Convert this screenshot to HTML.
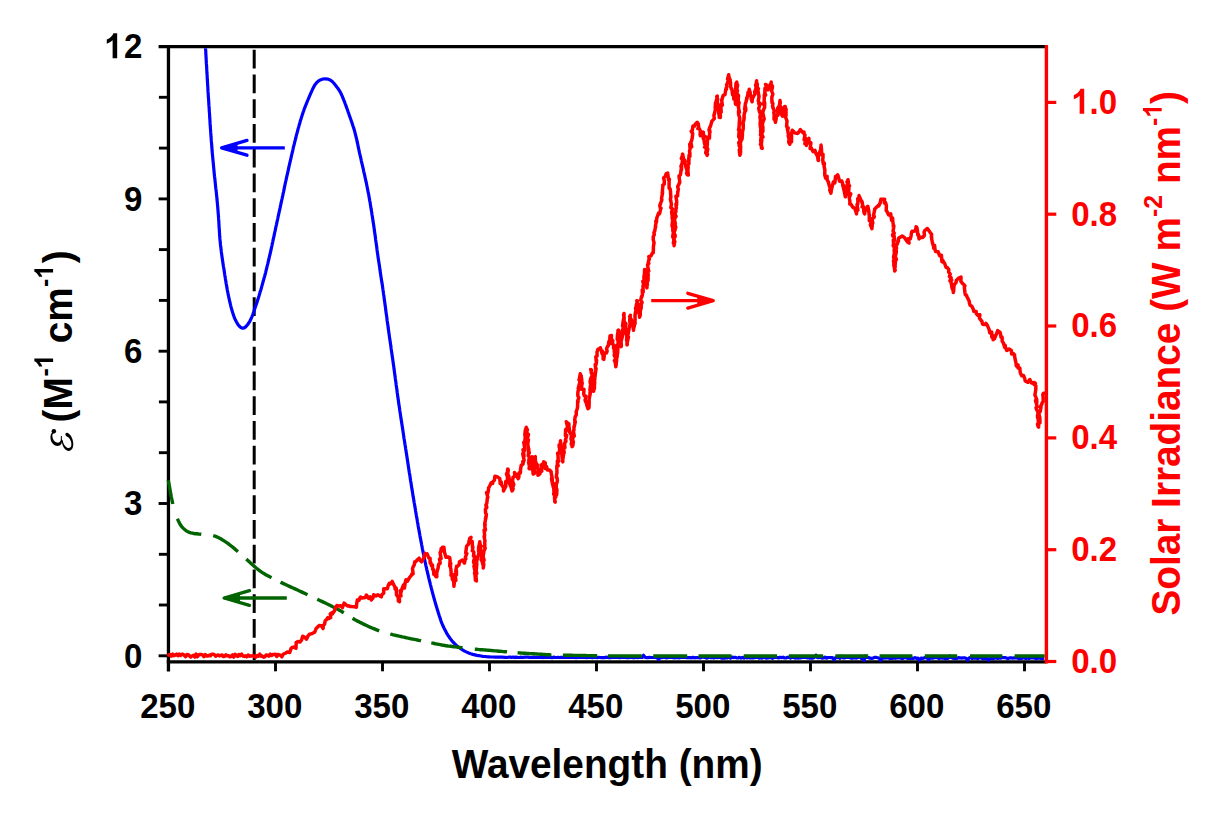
<!DOCTYPE html>
<html><head><meta charset="utf-8"><title>chart</title>
<style>html,body{margin:0;padding:0;background:#fff}body{width:1221px;height:818px;overflow:hidden;font-family:"Liberation Sans",sans-serif}svg{display:block}</style></head>
<body>
<svg width="1221" height="818" viewBox="0 0 1221 818">
<rect width="1221" height="818" fill="#fff"/>
<g stroke="#000" stroke-width="3.3" fill="none" stroke-linecap="butt">
<line x1="158.6" y1="46.6" x2="1046.4" y2="46.6"/>
<line x1="168.45" y1="45" x2="168.45" y2="671.5"/>
<line x1="166.8" y1="661.85" x2="1046.4" y2="661.85"/>
</g>
<g stroke="#000" stroke-width="2.9">
<line x1="158.6" y1="655.8" x2="168.45" y2="655.8"/>
<line x1="158.9" y1="605" x2="168.45" y2="605"/>
<line x1="158.9" y1="554.3" x2="168.45" y2="554.3"/>
<line x1="158.6" y1="503.5" x2="168.45" y2="503.5"/>
<line x1="158.9" y1="452.7" x2="168.45" y2="452.7"/>
<line x1="158.9" y1="401.9" x2="168.45" y2="401.9"/>
<line x1="158.6" y1="351.2" x2="168.45" y2="351.2"/>
<line x1="158.9" y1="300.4" x2="168.45" y2="300.4"/>
<line x1="158.9" y1="249.6" x2="168.45" y2="249.6"/>
<line x1="158.6" y1="198.9" x2="168.45" y2="198.9"/>
<line x1="158.9" y1="148.1" x2="168.45" y2="148.1"/>
<line x1="158.9" y1="97.3" x2="168.45" y2="97.3"/>
<line x1="275.5" y1="661.85" x2="275.5" y2="671.3"/>
<line x1="382.5" y1="661.85" x2="382.5" y2="671.3"/>
<line x1="489.5" y1="661.85" x2="489.5" y2="671.3"/>
<line x1="596.5" y1="661.85" x2="596.5" y2="671.3"/>
<line x1="703.5" y1="661.85" x2="703.5" y2="671.3"/>
<line x1="810.5" y1="661.85" x2="810.5" y2="671.3"/>
<line x1="917.5" y1="661.85" x2="917.5" y2="671.3"/>
<line x1="1024.5" y1="661.85" x2="1024.5" y2="671.3"/>
</g>
<g stroke="#ff0000" fill="none">
<line x1="1046.4" y1="45" x2="1046.4" y2="663.5" stroke-width="3.4"/>
<line x1="1046.4" y1="661.5" x2="1056.3" y2="661.5" stroke-width="3.2"/>
<line x1="1046.4" y1="549.7" x2="1056.3" y2="549.7" stroke-width="3.2"/>
<line x1="1046.4" y1="437.9" x2="1056.3" y2="437.9" stroke-width="3.2"/>
<line x1="1046.4" y1="326" x2="1056.3" y2="326" stroke-width="3.2"/>
<line x1="1046.4" y1="214.2" x2="1056.3" y2="214.2" stroke-width="3.2"/>
<line x1="1046.4" y1="102.4" x2="1056.3" y2="102.4" stroke-width="3.2"/>
</g>
<clipPath id="pc"><rect x="164" y="48.3" width="884" height="620"/></clipPath>
<line x1="254.2" y1="49.85" x2="254.2" y2="660" stroke="#000" stroke-width="3" stroke-dasharray="18.6 6.15"/>
<g clip-path="url(#pc)" fill="none">
<path d="M205 46.5L205.1 45.2L205.6 49.4L205.7 50.5L205.8 51.8L205.8 53.2L205.9 54.7L206 56.4L206.1 58.1L206.2 59.9L206.3 61.9L206.4 63.9L206.6 65.9L206.7 68.1L206.8 70.3L206.9 72.5L207.1 74.8L207.2 77.1L207.3 79.5L207.5 81.9L207.6 84.3L207.8 86.7L207.9 89.1L208 91.4L208.2 93.8L208.3 95.6L208.4 97.5L208.6 99.3L208.7 101.3L208.8 103.2L208.9 105.2L209.1 107.2L209.2 109.2L209.3 111.3L209.5 113.3L209.6 115.4L209.7 117.5L209.9 119.6L210 121.7L210.1 123.9L210.3 126L210.4 128.1L210.6 130.3L210.7 132.4L210.9 134.5L211 136.7L211.2 138.8L211.3 140.9L211.5 142.9L211.7 145L211.8 147L212 149L212.1 151L212.3 153L212.5 155.1L212.7 157.2L212.9 159.3L213.1 161.4L213.3 163.5L213.5 165.7L213.7 167.8L213.9 169.9L214.1 172L214.3 174.1L214.5 176.2L214.8 178.3L215 180.3L215.2 182.4L215.4 184.4L215.6 186.4L215.8 188.4L216.1 190.4L216.3 192.3L216.5 194.3L216.7 196.2L216.9 198L217 199.8L217.2 201.6L217.4 203.4L217.5 205.1L217.7 206.8L217.9 209.4L218.1 211.9L218.3 214.3L218.5 216.6L218.6 218.9L218.8 221L218.9 223.2L219 225.2L219.1 227.3L219.3 229.3L219.4 231.2L219.5 233.1L219.6 235.1L219.8 237L219.9 238.9L220.1 240.8L220.3 242.7L220.5 245L220.8 247.3L221.1 249.5L221.3 251.7L221.6 253.8L221.9 256L222.2 258.1L222.5 260.1L222.8 262.2L223.1 264.2L223.4 266.2L223.8 268.3L224.1 270.3L224.4 272.3L224.7 274.5L225.1 276.7L225.4 278.8L225.8 281L226.1 283.2L226.5 285.3L226.9 287.4L227.2 289.5L227.6 291.5L228 293.5L228.4 295.5L228.8 297.4L229.2 299.2L229.7 301.5L230.3 303.8L230.8 306.1L231.4 308.3L232 310.4L232.6 312.4L233.2 314.3L233.8 316.1L234.4 317.8L235.1 319.3L236.5 322L237.9 324.4L239.4 326.3L240.9 327.6L242.4 328.2L244.2 327.9L246 326.6L247.7 324.5L249.4 322L250.3 320.4L251.1 318.6L252 316.6L252.8 314.5L253.6 312.2L254.4 309.7L255.3 307.2L255.9 305.5L256.5 303.8L257.1 301.9L257.7 300.1L258.3 298.1L258.9 296.2L259.5 294.1L260.1 292.1L260.8 290L261.4 287.9L262 285.7L262.5 283.9L263 282L263.5 280.2L264 278.3L264.6 276.4L265.1 274.5L265.6 272.6L266.1 270.5L266.6 268.5L267.1 266.4L267.7 264.2L268.2 261.9L268.8 259.5L269.2 257.7L269.6 255.9L270.1 254L270.5 252L271 250L271.4 247.9L271.9 245.8L272.3 243.7L272.8 241.6L273.2 239.4L273.7 237.3L274.2 235.2L274.6 233L275.1 230.9L275.5 228.9L275.9 226.8L276.4 224.8L276.8 222.9L277.3 220.7L277.8 218.5L278.2 216.3L278.7 214.1L279.2 211.8L279.7 209.6L280.2 207.4L280.6 205.3L281.1 203.2L281.5 201.1L282 199.1L282.4 197.2L282.8 195.4L283.1 193.7L283.5 192.1L283.8 190.6L284.4 187.6L284.8 185.6L285.1 184.2L285.4 182.7L285.9 180.7L286.6 177.4L286.9 176L287.3 174.4L287.7 172.7L288.1 170.9L288.5 168.9L288.9 166.9L289.4 164.9L289.9 162.7L290.4 160.6L290.9 158.4L291.4 156.2L291.9 154L292.4 151.9L292.9 149.8L293.3 147.7L293.8 145.8L294.3 143.9L294.7 142.1L295.3 139.8L295.9 137.5L296.4 135.2L297 133.1L297.6 131L298.1 128.9L298.7 126.9L299.2 124.9L299.8 123L300.3 121.1L300.9 119.3L301.4 117.5L302 115.7L302.7 113.5L303.5 111.3L304.2 109.2L305 107.2L305.7 105.3L306.5 103.5L307.2 101.7L307.9 100L308.6 98.3L309.3 96.7L310.4 94.2L311.4 91.8L312.4 89.6L313.3 87.7L314.3 85.9L315.2 84.4L317 82.2L318.6 80.9L320.3 79.9L322.9 79L325.5 78.8L328.1 79.1L330.6 80.2L332.3 81.5L333.9 83.3L335.7 85.5L336.8 87L338 88.5L339.2 90.3L340.4 92.4L341.6 94.8L342.3 96.4L343 98.1L343.7 99.9L344.5 101.8L345.2 103.8L346 105.9L346.7 107.9L347.5 110L348.2 112.1L348.9 114L349.5 115.9L350.2 117.8L350.9 119.7L351.6 121.7L352.3 123.7L352.9 125.7L353.6 127.7L354.2 129.8L354.8 131.9L355.3 133.8L355.8 135.8L356.3 137.9L356.8 139.9L357.2 142L357.7 144L358.1 146.1L358.5 148.2L359 150.3L359.4 152.4L359.9 154.5L360.4 156.6L360.9 158.7L361.3 160.8L361.8 162.9L362.3 165L362.8 167.1L363.3 169.2L363.7 171.3L364.2 173.3L364.7 175.4L365.1 177.4L365.6 179.6L366 181.7L366.5 183.7L366.9 185.8L367.3 187.8L367.7 189.9L368.1 191.9L368.6 194.1L369 196.4L369.4 198.7L369.7 200.6L370.1 202.5L370.4 204.4L370.7 206.4L371 208.4L371.4 210.4L371.7 212.5L372 214.6L372.4 216.7L372.7 218.9L373 221.1L373.4 223.3L373.7 225.6L374 227.5L374.3 229.4L374.5 231.3L374.8 233.3L375.1 235.3L375.4 237.3L375.6 239.4L375.9 241.4L376.2 243.5L376.5 245.6L376.8 247.6L377 249.7L377.3 251.8L377.6 253.8L377.9 255.9L378.2 257.9L378.5 259.9L378.8 261.9L379.1 263.8L379.4 265.8L379.7 267.7L379.9 269.6L380.2 271.5L380.5 273.5L380.8 275.4L381.1 277.4L381.4 279.4L381.7 281.4L382.1 283.5L382.4 285.6L382.7 287.8L383 290L383.3 291.8L383.5 293.7L383.8 295.6L384.1 297.6L384.3 299.6L384.6 301.6L384.9 303.6L385.2 305.7L385.5 307.7L385.7 309.8L386 311.9L386.3 314L386.6 316.1L386.9 318.1L387.1 320.2L387.4 322.2L387.7 324.2L388 326.2L388.2 328.1L388.5 330L388.8 332.2L389.1 334.3L389.4 336.4L389.7 338.5L390 340.5L390.3 342.5L390.6 344.5L390.9 346.5L391.1 348.5L391.4 350.5L391.7 352.5L392 354.5L392.3 356.5L392.6 358.6L392.9 360.7L393.2 362.8L393.5 365L393.8 366.9L394 368.8L394.3 370.7L394.5 372.6L394.8 374.6L395.1 376.5L395.3 378.5L395.6 380.4L395.9 382.4L396.1 384.4L396.4 386.4L396.7 388.5L397 390.5L397.2 392.5L397.5 394.6L397.8 396.7L398.1 398.7L398.4 400.8L398.7 402.9L399 405L399.3 406.9L399.6 408.8L399.8 410.7L400.1 412.6L400.4 414.5L400.7 416.4L401 418.4L401.3 420.3L401.6 422.2L401.9 424.2L402.2 426.1L402.5 428.1L402.8 430.1L403.1 432.1L403.4 434.1L403.7 436.2L404 438.3L404.4 440.4L404.7 442.5L405 444.6L405.4 446.8L405.7 449L406 450.8L406.3 452.7L406.6 454.6L406.9 456.5L407.2 458.4L407.5 460.4L407.8 462.4L408.1 464.4L408.4 466.4L408.7 468.4L409 470.5L409.3 472.5L409.7 474.6L410 476.6L410.3 478.7L410.6 480.8L411 482.8L411.3 484.9L411.6 486.9L411.9 488.9L412.3 491L412.6 493L412.9 495L413.2 496.9L413.6 498.9L413.9 500.8L414.2 502.7L414.6 504.8L414.9 506.9L415.3 509L415.6 511.1L416 513.2L416.3 515.3L416.7 517.4L417.1 519.5L417.4 521.5L417.8 523.6L418.1 525.6L418.5 527.7L418.9 529.7L419.2 531.7L419.6 533.6L419.9 535.6L420.3 537.6L420.7 539.5L421 541.4L421.4 543.3L421.7 545.1L422.1 547L422.4 548.8L422.8 550.6L423.2 552.8L423.7 555L424.1 557.2L424.6 559.3L425 561.4L425.5 563.5L425.9 565.6L426.4 567.6L426.8 569.6L427.3 571.5L427.7 573.5L428.2 575.4L428.6 577.3L429.1 579.2L429.5 581L430 582.8L430.4 584.6L430.9 586.4L431.3 588.2L431.9 590.4L432.5 592.7L433.1 594.9L433.7 597.1L434.3 599.2L434.9 601.4L435.5 603.5L436.1 605.5L436.7 607.5L437.3 609.4L437.9 611.2L438.4 613L438.9 614.6L439.4 616.2L439.9 617.6L440.9 620.7L441.8 623.1L442.6 625L443.4 626.7L444.1 628.2L444.9 629.8L446.1 632.1L447.2 634.2L448.5 636.1L449.8 638L451.3 639.9L452.9 641.9L454.6 643.7L456.4 645.4L458.3 647L460.4 648.5L462.5 649.9L464.6 651.1L466.7 652.1L468.7 653L470.8 653.8L472.8 654.4L474.9 654.9L476.9 655.4L479 655.7L481 656L482.8 656.3L484.5 656.5L486.5 656.7L489.1 656.9L490.9 657L493 657L495.4 657.1L497.8 657.2L500.2 657.2L502.4 657.2L504.2 657.3L505.5 657.3L507 657.5L508.5 657.2L510 657.2L511.5 657.3L513 657.1L514.5 657.6L516 657.1L517.5 657.4L519 657.5L520.5 657.2L522 657.4L523.5 657.3L525 657.2L526.5 657.2L528 657.1L529.5 657.5L531 657.5L532.5 657.5L534 657.1L535.5 657.4L537 657.3L538.5 657.4L540 657.4L541.5 657.3L543 657.6L544.5 657.1L546 657.5L547.5 657.5L549 657.4L550.5 657.4L552 657.6L553.5 657.2L555 657.4L556.5 657.5L558 657.3L559.5 657.5L561 657.3L562.5 657.4L564 657.5L565.5 657.5L567 657.3L568.5 657.5L570 657.4L571.5 657.3L573 657.5L574.5 657.3L576 657.6L577.5 657.4L579 657.5L580.5 657.4L582 657.4L583.5 657.3L585 657.3L586.5 657.6L588 657.4L589.5 657.4L591 657.5L592.5 657.6L594 657.3L595.5 657.3L597 657.6L598.5 657.4L600 657.5L601.5 657.6L603 657.7L604.5 657.6L606 657.2L607.5 657.4L609 657.6L610.5 657.6L612 657.3L613.5 657.3L615 657.4L616.5 657.3L618 657.4L619.5 657.6L621 657.5L622.5 657.5L624 657.3L625.5 657.4L627 657.7L628.5 657.6L630 657.5L631.5 657.5L633 657.7L634.5 657.6L636 657.3L637.5 657.6L639 657.5L640.5 657.5L642 657.5L643.5 655.3L645 657.3L646.5 657.6L648 657.6L649.5 657.4L651 657.5L652.5 657.5L654 657.4L655.5 657.4L657 657.8L658.5 659.5L660 657.8L661.5 657.6L663 657.4L664.5 657.4L666 657.8L667.5 657.6L669 657.4L670.5 657.4L672 657.5L673.5 657.8L675 657.7L676.5 657.6L678 657.7L679.5 657.8L681 657.4L682.5 657.4L684 657.3L685.5 657.4L687 657.8L688.5 657.5L690 657.6L691.5 657.8L693 657.4L694.5 657.8L696 657.6L697.5 657.5L699 657.8L700.5 657.9L702 657.2L703.5 657.1L705 657.4L706.5 658.2L708 657.7L709.5 657.1L711 657.8L712.5 657.5L714 657.9L715.5 657.3L717 657.6L718.5 657.4L720 657.3L721.5 658.2L723 657.9L724.5 658.2L726 657.6L727.5 657.9L729 657.1L730.5 658.2L732 657.1L733.5 657.6L735 657.3L736.5 657.8L738 658L739.5 657.3L741 658.1L742.5 657.3L744 658.1L745.5 657.1L747 658L748.5 657.4L750 658L751.5 657.7L753 658L754.5 657.7L756 657.4L757.5 657.2L759 658.1L760.5 657.7L762 658.2L763.5 657.3L765 657.7L766.5 658.2L768 658L769.5 657.5L771 657.8L772.5 658.3L774 657.4L775.5 657.5L777 657.5L778.5 658L780 657.3L781.5 657.6L783 657.2L784.5 658L786 658L787.5 657.3L789 657.2L790.5 658.2L792 657.4L793.5 657.5L795 658.1L796.5 657.7L798 658.1L799.5 657.9L801 657.9L802.5 657.2L804 657.4L805.5 657.4L807 657.8L808.5 657.6L810 658.2L811.5 658.1L813 658.1L814.5 657.4L816 655.1L817.5 657.7L819 657.7L820.5 657.3L822 658.1L823.5 658L825 657.2L826.5 658.2L828 657.5L829.5 657.5L831 657.6L832.5 657.6L834 659.9L835.5 657.7L837 657.7L838.5 657.4L840 658.3L841.5 656.1L843 657.8L844.5 657.9L846 657.5L847.5 657.5L849 657.3L850.5 657.9L852 658.3L853.5 658L855 658L856.5 658.1L858 657.6L859.5 656.3L861 658.3L862.5 658.3L864 660.4L865.5 656L867 657.5L868.5 657.5L870 658.2L871.5 658.4L873 658.2L874.5 657.3L876 657.4L877.5 657.7L879 658L880.5 660.4L882 658.3L883.5 658.2L885 657.5L886.5 658.1L888 657.5L889.5 658.5L891 658.2L892.5 658.3L894 657.9L895.5 658.3L897 657.7L898.5 658L900 657.5L901.5 658.3L903 658.4L904.5 657.6L906 657.6L907.5 658.5L909 658.2L910.5 658.3L912 658.2L913.5 658.4L915 657.5L916.5 658.4L918 658.1L919.5 660.3L921 658.1L922.5 658.4L924 657.9L925.5 657.6L927 657.5L928.5 660L930 657.5L931.5 658.2L933 658.2L934.5 657.6L936 657.5L937.5 657.6L939 658.6L940.5 657.7L942 658.2L943.5 657.9L945 658.6L946.5 658.6L948 658.4L949.5 655.9L951 657.6L952.5 658.1L954 658.3L955.5 658.6L957 658.4L958.5 657.6L960 657.8L961.5 658.1L963 657.8L964.5 657.8L966 658.3L967.5 660.4L969 658.1L970.5 657.5L972 658.5L973.5 657.9L975 658.1L976.5 658.2L978 658.6L979.5 657.5L981 657.8L982.5 658.6L984 658.7L985.5 658.2L987 658.3L988.5 660.4L990 658.3L991.5 658.3L993 658.7L994.5 658.3L996 657.7L997.5 658.5L999 657.9L1000.5 658.1L1002 657.7L1003.5 657.7L1005 657.6L1006.5 658L1008 658.7L1009.5 657.9L1011 657.8L1012.5 658.1L1014 657.9L1015.5 658L1017 657.9L1018.5 658.6L1020 658.6L1021.5 658.5L1023 657.7L1024.5 658.1L1026 658.4L1027.5 657.9L1029 658.7L1030.5 657.9L1032 657.9L1033.5 657.6L1035 658.3L1036.5 658.7L1038 657.9L1039.5 658.2L1041 658.4L1042.5 658.6L1044 658" stroke="#0000ff" stroke-width="3.2" stroke-linejoin="round"/>
<path d="M168.3 480.2L169.8 488.6L171.3 496.8L172.8 504M177.4 518.7L178.9 522.1L180.4 524.8L181.9 526.8L183.4 528.4L184.9 529.8L186.4 530.9L187.9 531.8L189.4 532.4L190.9 532.9L192.4 533.2L193.9 533.5L195.4 533.7L196.9 533.8L198.4 534L199.9 534.1L201.3 534.3M213.2 535.6L214.7 536L216.2 536.6L217.7 537.3L219.2 538L220.7 538.8L222.2 539.7L223.7 540.6L225.2 541.6L226.7 542.6L228.2 543.7L229.7 544.8L231.2 546L232.7 547.2L234.2 548.4L235.7 549.7L237.2 551.1L237.9 551.7M246.3 559.1L247.8 560.4L249.3 561.8L250.8 563.2L252.3 564.6L253.8 565.9L255.3 567.2L256.8 568.5L258.3 569.7L259.8 570.8L261.3 571.9L262.8 572.9L264.3 573.8L265.8 574.7L267.3 575.5L268.8 576.3L270.3 577.1L271.5 577.7M280.5 582.2L282 582.9L283.5 583.6L285 584.3L286.5 585L288 585.7L289.5 586.4L291 587.1L292.5 587.8L294 588.4L295.5 589.1L297 589.8L298.5 590.5L300 591.2L301.5 591.9L303 592.6L304.5 593.3L306 594L307.5 594.8M317.3 599.3L318.8 600L320.3 600.7L321.8 601.4L323.3 602.1L324.8 602.8L326.3 603.6L327.8 604.3L329.3 605L330.8 605.7L332.3 606.5L333.8 607.2L335.3 608L336.8 608.7L338.3 609.6L339.8 610.4L341.3 611.3L342.8 612.2L343.8 612.8M352.6 618.3L354.1 619.2L355.6 620.1L357.1 620.9L358.6 621.6L360.1 622.4L361.6 623.1L363.1 623.9L364.6 624.6L366.1 625.3L367.6 626L369.1 626.7L370.6 627.4L372.1 628L373.6 628.6L375.1 629.2L376.6 629.8L378.1 630.4L379.2 630.8M390.3 634.1L391.8 634.4L393.3 634.8L394.8 635.1L396.3 635.5L397.8 635.8L399.3 636.2L400.8 636.5L402.3 636.9L403.8 637.2L405.3 637.5L406.8 637.8L408.3 638.2L409.8 638.5L411.3 638.8L412.8 639.1L414.3 639.4L415.8 639.7L417.3 640L418.8 640.3L420.3 640.6L421 640.8M431.3 642.9L432.8 643.2L434.3 643.5L435.8 643.8L437.3 644.1L438.8 644.4L440.3 644.7L441.8 645L443.3 645.2L444.8 645.5L446.3 645.8L447.8 646L449.3 646.1L450.8 646.3L452.3 646.5L453.8 646.7L455.3 646.9L456.8 647.1L458.3 647.3L459.8 647.4L461.3 647.6L462.5 647.8M474.8 649.2L476.3 649.3L477.8 649.4L479.3 649.6L480.8 649.7L482.3 649.8L483.8 649.9L485.3 650L486.8 650.1L488.3 650.2L489.8 650.4L491.3 650.5L492.8 650.6L494.3 650.8L495.8 650.9L497.3 651L498.8 651.2L500.3 651.3L501.8 651.4L503.3 651.6L504.8 651.7L506.3 651.8L507 651.9M517.6 652.8L519.1 652.9L520.6 653L522.1 653.1L523.6 653.2L525.1 653.3L526.6 653.4L528.1 653.5L529.6 653.6L531.1 653.7L532.6 653.7L534.1 653.8L535.6 653.9L537.1 654L538.6 654.1L540.1 654.2L541.6 654.3L543.1 654.4L544.6 654.5L546.1 654.6L547.6 654.7L549.1 654.8L550.6 654.9L551.4 654.9M562.9 655.2L564.4 655.2L565.9 655.2L567.4 655.3L568.9 655.3L570.4 655.3L571.9 655.3L573.4 655.4L574.9 655.4L576.4 655.4L577.9 655.4L579.4 655.4L580.9 655.5L582.4 655.5L583.9 655.5L585.4 655.5L586.9 655.6L588.4 655.6L589.9 655.6L591.4 655.6L592.9 655.6L594.4 655.7L595.9 655.7L597.2 655.7M607.9 655.9L609.4 655.9L610.9 655.9L612.4 655.9L613.9 655.9L615.4 655.9L616.9 655.9L618.4 655.9L619.9 655.9L621.4 655.9L622.9 655.9L624.4 655.9L625.9 656L627.4 656L628.9 656L630.4 656L631.9 656L633.4 656L634.9 656L636.4 656L637.9 656L639.4 656L640.9 656L641.8 656M653.3 656L654.8 656L656.3 656L657.8 656L659.3 656L660.8 656L662.3 656L663.8 656L665.3 656L666.8 656L668.3 656L669.8 656L671.3 656L672.8 656L674.3 656L675.8 656L677.3 656L678.8 656L680.3 656L681.8 656L683.3 656L684.8 656L686.3 656L687.2 656M698.5 656L700 656L701.5 656L703 656L704.5 656L706 656L707.5 656L709 656L710.5 656L712 656L713.5 656L715 656L716.5 656L718 656L719.5 656L721 656L722.5 656L724 656L725.5 656L727 656L728.5 656L730 656L731.5 656M743.7 656L745.2 656L746.7 656L748.2 656L749.7 656L751.2 656L752.7 656L754.2 656L755.7 656L757.2 656L758.7 656L760.2 656L761.7 656L763.2 656L764.7 656L766.2 656L767.7 656L769.2 656L770.7 656L772.2 656L773.7 656L775.2 656L776.7 656L777.1 656M788.9 656L790.4 656L791.9 656L793.4 656L794.9 656L796.4 656L797.9 656L799.4 656L800.9 656L802.4 656L803.9 656L805.4 656L806.9 656L808.4 656L809.9 656L811.4 656L812.9 656L814.4 656L815.9 656L817.4 656L818.9 656L820.4 656L821.9 656L823.2 656M835.3 656L836.8 656L838.3 656L839.8 656L841.3 656L842.8 656L844.3 656L845.8 656L847.3 656L848.8 656L850.3 656L851.8 656L853.3 656L854.8 656L856.3 656L857.8 656L859.3 656L860.8 656L862.3 656L863.8 656L865.3 656L866.8 656L868.2 656M879.6 656L881.1 656L882.6 656L884.1 656L885.6 656L887.1 656L888.6 656L890.1 656L891.6 656L893.1 656L894.6 656L896.1 656L897.6 656L899.1 656L900.6 656L902.1 656L903.6 656L905.1 656L906.6 656L908.1 656L909.6 656L911.1 656L912.4 656M924.8 656L926.3 656L927.8 656L929.3 656L930.8 656L932.3 656L933.8 656L935.3 656L936.8 656L938.3 656L939.8 656L941.3 656L942.8 656L944.3 656L945.8 656L947.3 656L948.8 656L950.3 656L951.8 656L953.3 656L954.8 656L956.3 656L957.2 656M970 656L971.5 656L973 656L974.5 656L976 656L977.5 656L979 656L980.5 656L982 656L983.5 656L985 656L986.5 656L988 656L989.5 656L991 656L992.5 656L994 656L995.5 656L997 656L998.5 656L1000 656L1001.5 656L1002.4 656M1014.6 656L1016.1 656L1017.6 656L1019.1 656L1020.6 656L1022.1 656L1023.6 656L1025.1 656L1026.6 656L1028.1 656L1029.6 656L1031.1 656L1032.6 656L1034.1 656L1035.6 656L1037.1 656L1038.6 656L1040.1 656L1041.6 656L1043.1 656L1044.6 656L1044.7 656" stroke="#006400" stroke-width="3.4"/>
<path d="M168.8 655L170.1 654.5L171.4 656.1L172.7 654.2L174 655.7L175.3 655.2L176.6 654.2L177.9 655.6L179.2 654.1L180.5 655.4L181.8 654.2L183.1 654.3L184.4 655.4L185.7 656.6L187 654.4L188.3 654.7L189.6 656L190.9 657L192.2 655.8L193.5 655.3L194.8 657.1L196.1 654.1L197.4 656.7L198.7 654.9L200 654.5L201.3 654.4L202.6 655L203.9 656.6L205.2 654.6L206.5 655.9L207.8 656L209.1 655.2L210.4 655.8L211.7 654.2L213 654.2L214.3 654.7L215.6 656.2L216.9 655.4L218.2 655L219.5 655.9L220.8 655.5L222.1 655L223.4 656.5L224.7 656.2L226 654.8L227.3 655.8L228.6 655.7L229.9 656.8L231.2 656.3L232.5 654.9L233.8 657.1L235.1 654.4L236.4 655.3L237.7 656.4L239 654.5L240.3 655.6L241.6 654.1L242.9 656.1L244.2 656.4L245.5 655.8L246.8 656.8L248.1 655L249.4 656.2L250.7 655.9L252 655.9L253.3 655.5L254.6 656.7L255.9 657L257.2 655.5L258.5 656.1L259.8 654.2L261.1 656.2L262.4 656.1L263.7 657.2L265 656.6L266.3 654.9L267.6 655.2L268.9 656.1L270.2 654.1L271.5 655.5L272.8 654.5L274.1 654.4L275.4 654.2L276.7 656.5L278 654.4L279.3 654.8L280.6 655.3L281.9 656.8L283.2 654.3L285.8 653L287.3 652.1L289.7 652.4L291.2 648.2L292 647.5L293.7 647.1L296 648.3L296.2 642.5L297.9 641.5L299.9 642.1L301.5 640.2L302.7 636.2L304.5 637.1L306.4 639.2L308.2 635.6L309.4 634.3L311.2 633.9L311.7 633.8L314.6 632.3L316.2 628.3L317.2 627.5L319 625.6L321.4 625.7L323.1 628.5L323.3 625.2L324.5 624.3L325.2 620.8L326.4 619.7L327.8 617.6L329 618.6L330.7 617.6L330.3 613.9L331.7 612.9L332.3 614L334.8 610.2L334.9 608.8L336.8 605.5L338.1 605.9L340.8 605.8L342.4 607.6L344.1 603.1L347.5 606L348.7 605.8L350 606.4L351.8 606.6L354.6 606.8L356.4 607.2L356.9 602.2L357.3 600L359 600.4L360 597.7L360.5 597L362 598.1L365.3 597.6L366.4 595L368.6 598.4L370.1 596.8L371.3 600L373 597.9L373.7 594.7L376.2 596L377.7 594.7L380 596.1L381.3 596.8L381.8 594.8L383.7 593.1L383.7 588.7L387.3 588.7L388.3 585.3L389.3 583.4L390.4 583.9L392.2 581.4L394.2 585.8L394.7 586.3L395.2 589.3L396.3 588.2L396.5 594.9L397.3 596.1L397.2 595L398.3 598L398.3 601L399.5 601.6L399.3 596.3L401 596.1L400.2 590.7L400.8 593L402 588.7L403.5 585L404.5 588L405.2 582.8L406 579.8L406.9 580.2L407.3 581.3L409.6 577.3L411.4 575.3L411.8 574.1L413.1 573.9L412.5 568.6L413.3 566.5L414.4 564.6L414.7 561.8L415.5 561.8L418 559.2L419.1 558.2L420.3 560.5L421.6 561.8L423.2 559.2L424.2 557.6L424.4 555.6L425.2 553.3L425.6 554.6L427.1 553.8L428.9 558.2L430.1 558.2L430.1 563.1L430.9 562.7L431.4 565.8L432.5 565.2L432.6 569.2L433.5 569.6L433.8 574.4L435 575L435.8 576.5L436.8 576.8L436.7 573.1L437.3 570.5L438.1 568.1L438.3 566.2L438.7 564.3L439.9 563.5L440.2 563L439.5 558.9L441.1 558.6L440.1 552.7L441.1 550.5L441.1 548.6L442.3 550.7L442.4 547.2L443.9 547.3L444.4 552.2L444.8 553.3L446 557.3L448.5 557L449.7 557.5L450.1 560.5L449.7 565.8L450.7 563.2L450.4 567.3L450.9 569.2L450.9 569.4L451.2 574.2L451 575.2L452.1 574.1L452.3 579.4L452.9 578.2L454.1 584.1L454.4 582.2L453.9 586.3L453.8 581.8L455 581.1L454.2 580L455.9 580.2L455 574.5L456.5 574.9L456.4 570.3L455.6 571.7L456.6 566.3L457 566.7L459 565L459.5 561.8L462.5 560.1L464.4 563.1L465.4 558.6L465.9 558.8L465.3 557.3L466.8 553.6L465.7 553L466.3 548.6L466.6 546.3L467.1 545.7L468 544.7L468.4 544.3L469.1 541.1L469.7 538.4L471 537.4L470.5 538L470.9 542.6L472.2 541.5L472.5 547.7L472.9 547.2L472.3 550.9L473.1 551.1L473.9 552.4L473.5 556L474.5 556L474.4 560L474.2 560.3L473.8 560.2L473.6 562.3L474.8 565.2L473.9 566.2L475.3 572.6L475.1 571.2L474.5 573.2L475 574.4L475.2 576.9L475.4 580.2L476.4 580.9L475.9 574.9L476.8 573.3L475.9 569.7L476.2 570.4L476.6 566.9L476.8 563.9L476.6 562.4L477 560.2L476.5 559.8L477.1 559.4L477.8 557L478.1 556.3L478.7 554L479.3 550.1L478.6 551.3L478.6 547.8L479.8 541.8L479.8 542.3L480.6 546.4L480.4 547.4L480.9 546L480.6 549.9L481.3 553.5L481.5 554.2L481.8 556.6L481.7 556L481.5 559.4L481.1 559.5L482.1 561.5L483.4 566.2L483.2 568L483.5 566.7L483.8 564L482.7 563.7L484.1 560.1L483.8 559L483.1 557.5L483.6 551.8L483.7 553.5L483.7 551.6L485.2 548.2L484.3 546.1L484.9 545.8L484.7 542.3L485 541.1L484.1 536.4L484.4 537.8L484.6 534.8L484.1 530L484.6 531.5L485.5 529.6L484.8 526.7L485.2 524.5L484.6 524.9L484.8 523.4L486.2 516.1L485.4 518.6L486.4 514.6L485.6 512.9L485.4 509.3L486.8 507.4L486.3 505L486.4 507.6L485.9 504.9L486.8 503.4L487.4 497.7L487.9 497.2L486.5 492.6L487.6 493.4L488.3 491.2L488.7 487.5L489.5 486.5L491.2 482.8L491.3 483.6L492.7 483.6L492.4 482.3L494.4 480.3L494.9 476.2L497 476.7L499.8 478.7L500.2 483.5L501.2 482L501.5 483.5L501.5 484.6L503.5 487.7L503.5 490.9L505.5 487L505.9 486L505.7 484.2L505.7 481.5L507.3 482.5L507.3 479.1L507.6 479L507.2 475.8L506.5 474L507.4 472.2L507.7 468.9L508.3 469.7L507.5 475.4L508 474.8L508.7 475.9L509.7 481.7L509.6 481.1L509.7 483.9L510.2 485.3L510.9 485.1L511 487.3L512.1 490.9L513.1 488.9L512.1 489.1L513.8 484.5L512.5 481L512.7 479.8L513 477.2L513.5 477.1L514.9 476L514.5 472.6L515.6 474.2L517 476L518.2 478.7L518.4 474.3L518.8 477.4L519 472.8L520.4 472.9L520.6 468.9L521.3 465.2L523.1 464L522.8 461.5L523.2 462.6L524.1 460.2L522.7 453.6L524 456.4L523.7 452.8L523 449.7L524.8 450.2L524.8 449.1L523.8 442.3L523.7 442.6L524.8 443L525 439.4L525.2 436.4L524.8 434.7L525.4 429.7L526.2 428.3L526.2 427.3L527.4 430L526.7 428.9L527.1 433.6L528 434.7L528.5 434.4L527.4 438.6L528.4 439.8L527.9 442.9L527.6 443.1L528.5 448.7L528.9 450.1L528.7 448.4L528.4 454.4L529.3 452.6L528.2 455.6L529.4 457.1L528.8 460.3L530.1 459.8L528.6 462.3L529.4 466.1L529.1 468.7L529.7 468.9L530.5 466.9L530 467.5L530.6 464.6L530.8 459.2L532.2 457.6L532.1 456.7L533.1 458.6L531.9 459L532.5 463.3L533.6 462.3L532.7 464.6L534 466.1L532.5 467.5L533.2 474.1L533.6 473.8L534.5 473.2L534.9 472.4L533.9 466.3L535.1 467.6L533.7 465.2L534.5 461.7L534.6 458.6L534.2 457.4L535.3 456.7L535.4 461.3L535.3 463.4L535.8 462L537.3 466.6L537 464.3L537.4 468.2L538.5 469.2L537.9 475.2L538.5 475L540 473.7L539.8 471.2L541.8 471.2L541 465.1L541.7 468.1L542.6 465.2L543.7 461.8L545.3 462.9L545.1 468.5L546.6 466.6L547.3 470L549.5 469.9L551 471.9L550.9 471.2L552.2 478.4L552.3 480.6L551.5 478.7L552.7 484.8L553.9 483.6L553 485.9L553.8 488.4L554 492.8L553.6 494L554.8 496.1L555.1 496.8L554.5 497.2L554.8 501.7L555.2 502.1L554.6 498.5L555.9 496.9L554.8 493.8L555.8 493.5L556.7 494.7L556.9 489.4L555.4 486.5L556.2 488.1L556.3 483.5L556.4 483.8L557 482.6L557.4 480.2L556.9 477.4L556.3 477.3L556.7 473.8L557 472.7L556.8 468L556.9 465.5L558.2 465.8L557.3 462.8L558.6 461.4L557.3 461.1L558.2 460.1L558 455.4L557.6 453.2L559.3 453.1L559.8 446.5L559.1 444.9L559.2 447.5L560.3 445.2L560.5 440.7L560.5 444.7L560.8 443.2L561.7 449L560.7 448.9L561.8 448.7L561.6 450.2L561.5 452.8L562.4 456.9L561.9 455.2L562.4 460.9L562.9 461.8L562.6 458.8L562.8 459.6L563.7 453.5L563.1 453.4L564.2 452.8L563.6 448.2L564.9 447.6L564.8 446.2L564.6 443.1L566 441.2L565.5 439.5L565.4 440.3L566.7 435.5L565.4 435.6L565.6 429.5L567.1 429.9L567.1 427.8L567.4 426.1L566.3 421.7L567.1 422.4L567.7 425L568.9 423.8L568.9 427.2L569.2 427.8L569.4 431.7L570.3 433.4L571.4 433.3L571 439.4L572.3 438.1L571.2 444.4L573.1 444L572.6 446.2L572 446.6L572.8 444.5L573.4 442.1L572.7 439.9L573 435.7L574.3 436.1L573.3 430.7L573.9 430.4L574 426.2L574 427.6L575.3 421.8L574.8 422.4L575.3 421.8L574.7 420.1L575.2 416.7L576.3 414.8L576.2 411.6L577 409.5L577.5 407.6L577.6 405.8L577.7 401.1L578.1 401.7L577.6 401.3L578.8 397.6L577.8 395.7L577.9 391.7L578.6 389.5L578.8 389.9L578.2 388.6L578.5 387.1L579.4 383.8L580.1 381.9L579 379.8L579.7 380.3L579.5 377.8L580.3 373.8L581.4 377L581.2 376L581.7 379.6L581.9 383.9L580.6 385.1L582.2 383L581.3 388.8L581.8 389.3L584 389.3L583.7 393.7L584.2 395.4L584.3 395.8L586 396.3L585.1 400.1L585.8 402.2L586.2 401.7L586.7 404.6L588 408.6L589 407.7L589.2 402.8L589.2 400.6L589 401.6L588.9 400.9L589.5 397.3L590.4 392.7L589.9 393L590.9 391.8L590 390.9L589.9 390L590.6 384.6L591.1 383.1L590.2 382.9L590.1 381.4L590.7 378.5L592.1 376.3L591.7 372.9L590.7 369.4L591.7 370.1L591.2 372.7L591.9 374L592.9 373.8L591.9 378.6L591.7 376.9L592.4 379.4L592.6 382L593.2 385.9L592.6 388.1L593.3 387.2L593.5 391.2L594.5 387.7L593.2 384.9L594.3 387.2L594.7 382.6L594 378.4L594.9 379.5L594.5 377.9L594.9 377.5L595.6 371.7L596.1 368.5L595.6 368.5L595.2 364.5L595.9 365L596.6 360.1L596.4 363.1L595.8 356.8L596.8 356.4L597.1 355.9L597 352L598 349.1L600.2 348.4L600.4 347.7L602.1 353.7L602.4 351.1L603.2 357.1L603.1 358.9L603.8 359.4L604.2 356L604.1 354.2L604.6 353L606.4 353.1L607.1 351.4L606.6 348.6L607.5 346.5L608.1 346.3L608.9 341.5L609.8 343.6L609.7 341.3L610 336L611.5 335.5L611.3 338.8L612.8 340.8L612 343.5L612.3 341.8L613.6 346L613.5 348.1L614.2 349L614.3 352.2L614.6 352.7L614.6 355.4L614.1 355.3L614.9 356.5L615.7 358.9L614.4 360.6L616.3 363.9L615.8 366.7L615.3 362.1L615.3 363.9L616.5 362L616.8 356.5L616.7 356.3L617.2 356.9L617.5 350.7L617.6 353.6L617.9 347.1L616.7 345.2L616.5 347.4L618.1 344.3L618.2 342.3L617.4 337.4L617.2 339.2L617.5 334.8L618.1 331.2L617.9 330.7L618.5 330L619.2 331.3L618.9 336.7L619.6 338.2L620.1 335.6L620.1 340L621.1 341.5L621.3 344.6L621.3 346.5L620.9 346.6L620.9 344.4L621.2 337.9L621.4 340.2L623 334L622.2 334.8L622.9 331.1L622.6 330.1L623.3 327.7L623.7 325.9L622.5 326.3L623.2 321L623.6 318.9L624 320.4L624.2 318.1L623.6 314.9L624 313.5L624 317.6L623.7 319.6L623.8 317.7L624.4 323.5L625 322.6L625.9 323.7L625.4 327.3L626.1 330.5L626.1 330.2L625.8 331.1L626.9 335.9L626.9 335L626.6 340.4L627 338.7L627 344.9L627.3 344.7L627 341L627.4 341.9L628.5 336.9L627.5 335.5L628 335.1L627.9 332L628.2 333.7L629.4 326.8L630 324.9L629.2 327.9L630.1 324.5L629.7 319.6L630.2 317.1L629.7 316.7L630.4 315.4L630 316.9L631.8 320.7L631.7 322.4L632.1 321.7L632.8 325.3L633.5 330.2L633.5 330L633.6 328.5L634.4 325.7L633.7 325.4L635.1 323.7L635 322.2L635.1 319.1L635 315.3L635.5 312.1L635.3 314L636.1 311.2L635.5 308.1L636.1 307.2L636.2 305.6L637.4 300.9L636.8 300.7L637.4 304.3L637.3 304.8L638.7 304.3L638.3 307.1L639.1 313.5L638.9 310.8L639.4 315.4L639.6 317.2L640.2 315.3L640.3 315.1L640.3 310.7L641.3 307.6L641.1 306.7L641.5 303.2L642.1 302.5L640.7 300.1L641.5 296.6L641.8 296.9L642.5 294.6L642.4 293.4L642.2 289.9L643.2 291.9L643 285.9L643.7 284.8L642.8 281.4L644 283.2L643.9 279.3L644 275.9L644.9 274.7L644.5 275.3L645 271.3L644.6 269.5L644.5 271.8L644.4 275.5L645.1 277.6L645.2 277L645.4 279.3L645.6 279L646.8 282.6L646.2 284.7L646.9 287.9L647 285.5L647.4 284.9L647 284.5L648 277.6L648.1 280.4L648.1 274.2L648.3 275L647 269.6L648.8 271.2L647.6 266.2L647.6 265L648.8 263.6L647.8 264.8L649.1 258.7L649.4 259.3L648.8 256.7L651.1 255.8L652.4 253L653.3 252.6L653.4 247.2L653.4 247.1L653.7 244.5L654.1 243.1L653.2 239.3L653.2 238.7L653.3 236.5L654.3 234.7L653.9 232.7L654.7 231.1L655.6 226.2L655.7 226.9L655.4 226.1L656.1 222.5L655.7 221.3L656.5 222L656.7 218.4L658.6 213.1L659.3 213.9L659.8 213L660.6 209.2L661 208.3L660.4 208.5L659.8 205.6L661.2 201.6L661.9 199.9L661.5 198.8L661.8 196.8L662.5 193.2L662.2 192.5L662.6 192.8L662.4 190.8L662.8 187.1L662.8 185.1L664.3 184L664.2 180.3L663.6 178.1L664.2 177.3L665.4 176.2L666.2 173.6L667.7 173.1L668.5 179.8L669.1 179.7L669.4 179.2L669.1 181L669.1 188.2L670.1 188.8L670.6 192.2L670.5 192.6L670.7 195.1L670.9 197L670.4 199L671 201.6L670.6 200.4L671.5 204.2L670.8 207.7L672.5 209L671.6 211.9L672.5 212.5L671.7 213L672.1 215L672.2 218.8L673.2 217.5L672.7 219.4L672 225.7L672.9 228.3L672.8 225.2L672.8 230.4L674 234.6L673.2 233.4L672.7 236.6L673 235.8L672.8 237L674.1 239.6L674.7 241.4L674 245.7L674.8 241.7L673.3 243L673.8 241.1L673.8 235.4L675 237.1L675.2 235.3L673.9 232.7L675.1 229.8L675.6 226.7L675.8 227.4L674.2 221.5L675.4 224L674.5 219.2L675.8 216.4L676.1 216.3L674.7 213.7L675.8 212.1L676 208.5L676.4 207.8L676.2 207.3L675.9 204L676.6 205.2L676.7 201.1L675.9 196.3L676.4 196.8L677.6 195.9L677.7 191.9L677.6 193.5L678.3 189.4L677.7 186.4L679.1 184.1L679.1 183.4L679.8 182.5L679 176L679.3 176.4L680.1 174.8L680.5 174.5L681.3 168.1L681.4 170.3L681.7 166.9L680.9 166.4L682.1 163.4L682.5 159.5L681.3 158.5L682.8 154.5L682.5 154.1L683.6 158.6L683.3 158.9L684.7 160.3L685 162.6L684.9 163.3L686.3 168.3L686.1 166.4L687.2 172.3L686.5 173.2L687.4 174.8L688.3 175L687.9 170.7L688.2 167.1L687.8 165L688.9 164L688.9 162.3L689 158.8L688.4 161.6L689.2 154.6L689.9 156.4L689.9 152.8L689.5 151.4L690.1 148.9L689.7 144.2L691.7 146.9L691 143.2L690.8 142.4L691.3 141.4L692.1 138.7L692.7 133.5L691.2 131.2L692.3 130.9L692.9 126.1L694.7 126L695.1 124.5L697.2 122.3L698.3 124L698.9 128.4L697.8 128.6L698.8 127.8L700.3 130.5L700.1 134.6L700.4 135.7L702.7 134.9L703.3 132.1L703.4 133.7L703.3 138.6L705.1 136.3L703.7 138.5L704.6 144L705.9 145.6L704.6 147.2L706.1 148.4L706.9 147L705.7 152.9L707.5 154.4L707 155.3L706.8 153.9L707.8 149.2L707.2 148.2L707 147.5L707.3 144.2L707.4 144.8L707.3 143.1L707.8 137.3L709.3 136.4L709.5 138.1L709.6 132.1L709 130L710 132.2L709.4 128.4L710.3 126.3L710.4 126.6L711.2 123.6L711.9 121.1L714.3 118.6L713.9 115L713.9 115.8L715.1 110.6L715.8 109.3L715.2 106.7L715.2 108.5L715.5 102.7L716 101.6L717 98.4L717.3 96.1L716.7 96.6L717.7 99.4L716.9 100.3L717.3 100.9L717.5 103.4L719.3 108.8L719.5 105.7L718.7 112.1L718.6 113L719.4 116.3L719.2 117.2L720.4 117.4L720.3 113.5L719.9 115.5L721.1 110L721.2 112.1L721 108.3L721.1 104.3L722.4 105.3L721.6 99.9L721.6 101L722.6 97.2L722.8 96.6L723.2 95.4L725 94.7L725.7 89.5L726.5 89.3L726 88.5L727 86.4L726.6 84.8L727.5 82.9L728.7 78.8L727.5 79.1L728.7 74.7L729 78.8L728.9 77L730.3 80.1L729.4 82.1L730.5 82.1L730.7 86.9L731.3 88.6L731.8 88.8L732.6 94.8L733.4 94L733.7 96.4L733.8 99.1L735.1 99.1L735.5 104L736.3 104.5L735.7 100.1L735.9 98.2L735.1 98.6L735.6 92.2L735.5 90.6L736.9 87.4L735.7 89.1L736 83.3L736.9 84.4L736.8 82L737 85.1L736.4 87.9L737.6 85.2L736.7 89.6L737.5 90.4L736.9 93L737.1 96L738.5 95.4L738.2 100.7L737.6 103L739.1 102.5L738.3 107L738.6 106.4L738.7 108.9L739.5 112.4L738.5 111.3L738.6 114.3L739.8 118.3L739.7 120.3L739.6 118L739.1 125L739.9 123L739 127L739 128.4L738.5 129.8L739.3 129.4L738.7 136.7L739.9 138.4L739.7 139.6L740.2 142L738.7 142.6L739.2 144.7L739.2 145.9L740.5 148.2L739.3 149.6L739.7 154L739.5 152.3L739.9 155.3L740.4 151.2L740.5 153.9L740.6 148L740.7 147.5L740.4 143.2L740.6 142.1L741.3 140.1L741.3 137L742 139.2L742.4 135.7L742.4 133.3L742.9 129.6L743.2 129.1L743.2 128L743.3 124.3L743.1 121.8L743.8 120.7L744.2 116.7L744 119.4L744 115.7L744.7 112.2L745.8 110.3L745.7 107.5L744.6 109.5L745.5 103L745.7 103.2L746.1 101.5L747 97.3L746.6 100L748.1 93.5L747.9 92.5L749 92L749.2 89.3L750.3 93.1L750.2 94.7L751.1 96.9L751.2 99L752.1 101.8L752.2 101.5L752 101.6L752.3 99.1L753.8 95.7L755 94.1L754.6 91.8L754.9 91.2L756.1 88L755.6 84.9L756.1 84.2L756.6 80.8L756.5 82.2L757.3 84.1L757.2 88.3L758.4 88.7L758 88.9L758 90.7L758.8 95.1L759 96.6L758.3 100.9L758.9 102.3L759.9 104.9L758.8 103.8L760.2 103.4L758.7 108.4L759.6 112.3L760.2 112L760.7 113.8L759.9 116.7L759.8 116.7L760.2 118.6L761 122.3L760.3 121L760.1 124.6L760.5 127.5L761.2 131.6L760.6 130.5L760.9 135.5L760.5 134.8L761.4 134.7L760.6 141.2L761.6 140.5L760.4 144.5L761.6 146L762.2 148.3L761.4 148L761.4 144.1L761.3 144.2L761.8 140.4L761.3 140.9L762.2 137.4L763 137L761.5 133.8L762.9 131.3L762.9 127.6L762.3 130.4L762.9 127.4L762.4 124.5L763.1 121.3L763.4 120.8L764.2 119.1L763.2 114.6L762.9 116.2L762.9 110.6L763.2 111L763.9 108.9L764.6 107.5L764.7 102.4L763.4 104.3L764.1 101.9L764.3 96.8L764.3 94.4L765.6 95.1L764.8 92.3L765 88L766 88.9L766.3 86.1L765.6 84.4L767 85.4L768 89.3L768 89.9L770.2 84.6L771.1 85.6L771.2 82L771 84.6L772.3 86L772.5 86.6L771.6 91.2L771.5 90.9L772.8 93.9L772.8 94.6L771.8 97.2L772 102.6L772.4 102.3L772.9 104L772.5 106.2L773.2 107.5L773 108L774.6 111.3L773.8 112.4L774.2 114.7L774 119.2L774.8 118.3L775.4 122.3L776.3 117.8L775.9 119.8L776.2 115.4L777.9 115.2L777.8 111.3L777.6 108.3L779.1 106.3L779.9 103.2L780.4 102.7L780 100.5L779.8 102.2L780 105.6L780.5 108.6L781.4 107.6L781.1 110.9L781.4 114.4L781.5 114.3L782.5 116.2L783.1 113L784.1 111.6L784.4 110.7L784.3 107.7L785.2 106.4L784.6 106.6L786.2 109.3L786 110.1L786 113.5L786.1 115.1L785.4 117.1L785.9 118L787 120.9L786.6 126.3L786.9 126L787.7 130.2L788.2 128L787.5 129.5L788.5 135L788.2 135.7L789.1 139.3L788.7 142.2L789.2 143L789.8 144.3L789.7 140.2L791.5 141.8L791.6 136L790.8 134.8L791.5 133.6L792.3 130.2L793 130.9L794.5 132.9L796.6 133.3L797.9 133.4L800.3 129.6L802.3 132.1L804 132.1L803.9 133.6L805 135.1L804.1 139.7L805.9 138.6L804.9 143.7L806.3 141.1L806.4 145.5L806.6 141.5L808.2 140.2L809 141.4L808.9 138.2L808.6 141.3L809.7 143.5L810.9 142.9L810.1 148.5L811.3 148L813 151.6L815 150.4L816 153.7L816.8 155L816.8 153.8L817.8 157.8L818.1 160.2L818.5 160.5L818.3 157.5L818.6 155L820.4 150.5L820.3 152.3L820.9 147.8L821.1 145.5L821 145.1L821.5 149.1L821.5 150.5L821.7 154.8L823 154.2L823 157.7L822.7 159.7L823.3 163.9L823.3 162.3L824.4 163.3L824.1 166.3L824.7 169.4L824.8 169.1L824.8 173.5L824.7 174.8L825.6 178.1L827.1 176.3L827.1 179.6L828.4 182.2L828.4 181.9L829 184.9L830.3 188.5L829.7 190L830.9 193.2L831.3 190.2L831.3 186.4L831.5 189.4L833.3 182.1L833.3 182.2L834.8 183L835.6 176.3L836.6 176.3L837.7 174.8L838.5 177.1L839.5 181.2L841.8 180.9L842.5 183.6L843.5 185.7L842.7 185.4L843 186.2L844.6 192.7L844.2 191.1L845.3 196.7L845.5 196.8L846.5 193L846.6 194.9L846.8 190.1L846 191L846.6 186.6L847.3 184.7L848 182L846.9 182L848 179.7L848.5 183.5L848.9 186.1L849.5 185.8L849 185.9L848.8 190.4L848.7 193L849.1 193.7L850.8 193.7L849.3 197.7L849.9 201.4L849.8 204.1L850.9 204.2L853.1 207.6L854.1 207.8L854.8 208.6L856 211.9L856.5 213.9L856.6 211L856.9 210.8L857.9 210.1L857 204.6L857.8 204.1L857.9 200L857.7 198.7L858.7 200.3L859 195.6L860.8 199.7L861.9 202.3L862.1 201.7L862.7 205.5L862.1 206.8L863.5 206.7L863.9 212.4L864.1 212.7L864.6 213.9L865 211.2L866.7 207.6L866.2 209.4L867.5 206.6L867.8 206.3L868.6 209.9L868.8 212.1L869.2 215L869.3 214.4L869.3 220.8L870.4 218.4L871.4 221.2L870.4 224.8L871.1 226.5L871.9 228.6L872.3 225.1L872.6 222.5L872.8 223.2L872.3 220.2L872.6 218.5L874.3 217.1L874.3 216.3L873.5 215.7L874.9 208.7L874.8 209L877.2 206.6L878.5 205.4L878.7 205.9L880.2 202.9L880.9 199.3L884.6 199.3L884.3 202.9L884.6 201.9L885.6 202.7L886.4 205.8L886.2 210.6L887 211.5L888.7 214.9L890.7 213.9L891.3 218L891.6 220.3L892.6 218.1L892.8 221.1L893.3 225.1L893.2 226.1L893.9 225.9L893.1 231.3L894.2 233.2L892.6 234.5L892.8 236.1L894.1 235.6L894.4 240.7L893.3 240L893.7 245.6L894 243.5L893.1 245.4L894.5 247.8L894.1 250.3L894.4 252.8L893.5 257.5L894.3 258.4L894.9 261.8L893.5 260.4L893.8 263.2L895.2 266.8L893.7 265.3L895.2 270.1L894.7 271L894.7 268.9L894.4 268.9L895 267.1L895.5 260.6L895.2 259.4L896.4 259.5L895 255.2L895.7 254.8L896.3 252.4L896.1 248.2L896.6 248.1L895.8 246.8L896.8 245L898.5 240.6L897.7 242.2L898.7 238L899.9 237.4L902.2 236.1L904.4 237.4L906.1 239.9L907.5 242L909.1 243L908.2 238.8L910.3 238.7L911.1 235.6L911.6 232.3L912.1 231.3L913 231.4L915.4 230.7L916.1 226.7L916.9 227.6L917.6 232.1L917.6 233.6L917.8 235.1L918.4 234.4L919.1 238.9L920.7 237.2L922.8 237.4L924.4 235.4L924.1 232.1L924.6 230.8L925.8 229.7L927.4 228.5L930.4 232.8L931.6 234.4L931.3 236.9L931.6 236.5L931.7 239.2L932.6 243.4L933.6 246.4L933.7 248.2L934.6 245.4L935 249.6L935.6 251.6L938.2 251.8L938.9 253.8L939.6 255.7L941.4 255.2L941.9 261.7L942.6 260L944.2 263.3L944.5 263L946.1 267.5L947.1 267.4L948.8 269.5L948.6 272L950.2 274.1L949.4 276.5L951.1 277.7L949.9 280.8L951.7 280.1L950.8 281.1L951.9 286.9L952.4 289L952 287.6L953.4 291.3L953.3 292.4L953.6 291.4L954 285.9L954.7 283.8L955.6 283.3L955.9 282.8L956.4 280.2L958.3 278.4L961 277.1L960.9 281.4L962.6 283.6L962.5 283.4L964 284.7L964.9 285.8L964.3 286.9L964.9 292.3L965.3 294.7L966.4 295.2L967.1 297L968.2 299.1L969.2 301.2L969.6 303.8L970.3 305.5L971.7 306.1L973.4 309.5L973.8 311.3L976.2 311.4L976.2 313.6L977.8 315.3L979.9 314.8L979.4 318.2L981.9 321.4L982.6 324.2L983.6 324.4L985.4 324.5L985.9 323.4L987.2 325.1L989.1 329.4L989.8 333L991.6 332.1L991.7 332.1L991.8 337.3L993.5 336L993.1 339.8L993.2 339.5L994.5 338.8L995.9 335L996.5 334.1L997.7 330.6L998.4 331.4L999.9 332L1000.4 333.5L1001 337.2L1002.1 337.1L1002.2 341.3L1003.2 342.6L1004.8 347.5L1005.2 345.3L1005.4 347.3L1006.8 350.5L1009 349L1011.4 350.5L1011.6 354L1013.2 353.4L1014.6 355L1014.6 356.7L1015.9 362.7L1016 362.7L1016.3 365.9L1018.1 365L1018 368L1019.8 367.9L1020.2 372.2L1020.6 373.4L1021.7 375.7L1023.6 375.6L1024.7 378.3L1025.2 381L1028 382.3L1029.8 379.5L1031.5 383L1034.3 382.5L1035.4 383.3L1033.8 384.2L1035.8 385.6L1035.8 388.3L1035.7 390L1034.9 395.2L1035 395.2L1036.7 399.3L1036.8 402.7L1035.5 400.5L1036.5 403.9L1037.2 406.9L1036 407.8L1036.5 409.3L1036.4 408.9L1038.1 412.5L1038.1 413.3L1037.5 415.3L1037.6 417.4L1038.2 419.2L1038.4 423.1L1037.5 424.2L1038.3 426.9L1038.6 427.1L1038.6 421.1L1040 422.7L1039.8 417.2L1039.1 415L1039.2 411.7L1040.2 411.6L1040.5 410L1041 407.1L1040.4 406.9L1041.9 403.9L1042.1 402.7L1043.2 401.6L1043.1 396.8L1042.8 394.8L1043.5 393.2L1045.5 393.2" stroke="#ff0000" stroke-width="3.5" stroke-linejoin="round" stroke-linecap="round"/>
</g>
<g fill="none" stroke="#0000ff" stroke-width="3.3" stroke-linecap="round" stroke-linejoin="round"><path d="M247 140.4L221.6 147.8L247 155.2"/><path d="M222 147.8L284.8 147.8" stroke-linecap="butt"/><path d="M222 147.8L237.5 143.2L237.5 152.4Z" fill="#0000ff" stroke="none"/></g>
<g fill="none" stroke="#006400" stroke-width="3.3" stroke-linecap="round" stroke-linejoin="round"><path d="M249.5 590.6L224.1 598L249.5 605.4"/><path d="M224.5 598L286.8 598" stroke-linecap="butt"/><path d="M224.5 598L240 593.4L240 602.6Z" fill="#006400" stroke="none"/></g>
<g fill="none" stroke="#ff0000" stroke-width="3.3" stroke-linecap="round" stroke-linejoin="round"><path d="M687.8 293.3L713.2 300.7L687.8 308.1"/><path d="M712.8 300.7L651.2 300.7" stroke-linecap="butt"/><path d="M712.8 300.7L697.3 296.1L697.3 305.3Z" fill="#ff0000" stroke="none"/></g>
<g font-family="'Liberation Sans', sans-serif" font-weight="bold">
<text transform="translate(142.3 667.6) scale(0.952 1)" font-size="34.7" text-anchor="end" fill="#000">0</text>
<text transform="translate(142.3 515.39) scale(0.952 1)" font-size="34.7" text-anchor="end" fill="#000">3</text>
<text transform="translate(142.3 363.08) scale(0.952 1)" font-size="34.7" text-anchor="end" fill="#000">6</text>
<text transform="translate(142.3 210.97) scale(0.952 1)" font-size="34.7" text-anchor="end" fill="#000">9</text>
<text transform="translate(142.3 58.16) scale(0.952 1)" font-size="34.7" text-anchor="end" fill="#000">2</text>
<path transform="translate(104.17 58.16) scale(0.016130 -0.016943)" d="M806,0L524,0L524,1062Q370,918 161,849L161,1105Q271,1141 400,1241.5Q529,1342 577,1476L806,1476Z" fill="#000"/>
<text transform="translate(167.8 718.3) scale(0.952 1)" font-size="34.7" text-anchor="middle" fill="#000">250</text>
<text transform="translate(274.8 718.3) scale(0.952 1)" font-size="34.7" text-anchor="middle" fill="#000">300</text>
<text transform="translate(381.8 718.3) scale(0.952 1)" font-size="34.7" text-anchor="middle" fill="#000">350</text>
<text transform="translate(488.8 718.3) scale(0.952 1)" font-size="34.7" text-anchor="middle" fill="#000">400</text>
<text transform="translate(595.8 718.3) scale(0.952 1)" font-size="34.7" text-anchor="middle" fill="#000">450</text>
<text transform="translate(702.8 718.3) scale(0.952 1)" font-size="34.7" text-anchor="middle" fill="#000">500</text>
<text transform="translate(809.8 718.3) scale(0.952 1)" font-size="34.7" text-anchor="middle" fill="#000">550</text>
<text transform="translate(916.8 718.3) scale(0.952 1)" font-size="34.7" text-anchor="middle" fill="#000">600</text>
<text transform="translate(1023.8 718.3) scale(0.952 1)" font-size="34.7" text-anchor="middle" fill="#000">650</text>
<text transform="translate(1071.2 672.8) scale(0.952 1)" font-size="34.7" text-anchor="start" fill="#ff0000">0.0</text>
<text transform="translate(1071.2 560.98) scale(0.952 1)" font-size="34.7" text-anchor="start" fill="#ff0000">0.2</text>
<text transform="translate(1071.2 449.16) scale(0.952 1)" font-size="34.7" text-anchor="start" fill="#ff0000">0.4</text>
<text transform="translate(1071.2 337.34) scale(0.952 1)" font-size="34.7" text-anchor="start" fill="#ff0000">0.6</text>
<text transform="translate(1071.2 225.52) scale(0.952 1)" font-size="34.7" text-anchor="start" fill="#ff0000">0.8</text>
<path transform="translate(1071.2 113.7) scale(0.016130 -0.016943)" d="M806,0L524,0L524,1062Q370,918 161,849L161,1105Q271,1141 400,1241.5Q529,1342 577,1476L806,1476Z" fill="#ff0000"/>
<text transform="translate(1089.57 113.7) scale(0.952 1)" font-size="34.7" text-anchor="start" fill="#ff0000">.0</text>
<text transform="translate(607.2 778) scale(0.955 1)" font-size="40.6" text-anchor="middle" fill="#000">Wavelength (nm)</text>
<text transform="translate(1180.2 615.6) rotate(-90) scale(0.955 1)" font-size="40.6" text-anchor="start" fill="#ff0000">Solar Irradiance (W m</text>
<text transform="translate(1161.7 216.97) rotate(-90) scale(0.955 1)" font-size="26.0" text-anchor="start" fill="#ff0000">-2</text>
<text transform="translate(1180.2 184.12) rotate(-90) scale(0.955 1)" font-size="40.6" text-anchor="start" fill="#ff0000">nm</text>
<text transform="translate(1161.7 125.96) rotate(-90) scale(0.955 1)" font-size="26.0" text-anchor="start" fill="#ff0000">-</text>
<path transform="translate(1161.7 117.69) rotate(-90) scale(0.012124 -0.012695)" d="M806,0L524,0L524,1062Q370,918 161,849L161,1105Q271,1141 400,1241.5Q529,1342 577,1476L806,1476Z" fill="#ff0000"/>
<text transform="translate(1180.2 103.89) rotate(-90) scale(0.955 1)" font-size="40.6" text-anchor="start" fill="#ff0000">)</text>
<g transform="translate(40 420) scale(0.048924)"><path d="M245,255 C205,300 200,400 250,470 C290,525 360,545 410,515 C435,498 445,475 447,450 L447,325 L427,325 L425,410 C420,450 385,470 345,462 C290,448 255,390 252,320 C251,295 265,275 290,272 Z M447,450 C455,520 500,625 580,632 C650,635 685,560 680,480 C675,390 630,290 560,262 C535,255 515,275 520,300 C525,330 560,335 585,360 C625,400 648,470 640,520 C630,570 585,580 555,565 C500,535 470,470 465,420 L447,400 Z" fill="#000"/><circle cx="283" cy="228" r="46" fill="#000"/></g>
<text transform="translate(71.6 422.6) rotate(-90) scale(0.955 1)" font-size="40.6" text-anchor="start" fill="#000">(</text>
<text transform="translate(71.6 409.4) rotate(-90) scale(0.955 1)" font-size="40.6" text-anchor="start" fill="#000">M</text>
<text transform="translate(53.1 376.6) rotate(-90) scale(0.955 1)" font-size="26.0" text-anchor="start" fill="#000">-</text>
<path transform="translate(53.1 368.33) rotate(-90) scale(0.012124 -0.012695)" d="M806,0L524,0L524,1062Q370,918 161,849L161,1105Q271,1141 400,1241.5Q529,1342 577,1476L806,1476Z" fill="#000"/>
<text transform="translate(71.6 343.2) rotate(-90) scale(0.955 1)" font-size="40.6" text-anchor="start" fill="#000">cm</text>
<text transform="translate(53.1 287) rotate(-90) scale(0.955 1)" font-size="26.0" text-anchor="start" fill="#000">-</text>
<path transform="translate(53.1 278.73) rotate(-90) scale(0.012124 -0.012695)" d="M806,0L524,0L524,1062Q370,918 161,849L161,1105Q271,1141 400,1241.5Q529,1342 577,1476L806,1476Z" fill="#000"/>
<text transform="translate(71.6 263.2) rotate(-90) scale(0.955 1)" font-size="40.6" text-anchor="start" fill="#000">)</text>
</g>
</svg>
</body></html>
